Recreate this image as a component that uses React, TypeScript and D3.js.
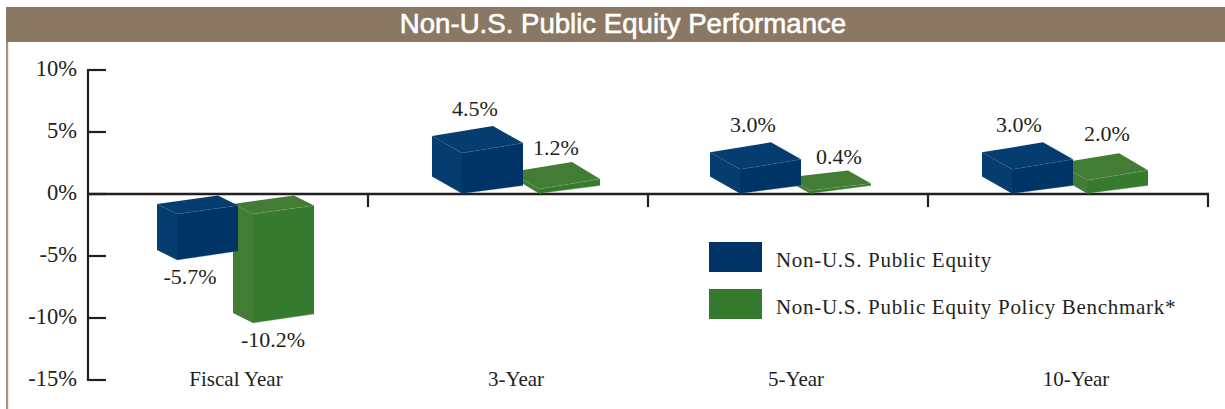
import React from "react";
import * as d3 from "d3";

const title = "Non-U.S. Public Equity Performance";
const categories = ["Fiscal Year", "3-Year", "5-Year", "10-Year"];
const equityValues = [-5.7, 4.5, 3.0, 3.0];
const benchmarkValues = [-10.2, 1.2, 0.4, 2.0];
const yTicks = [10, 5, 0, -5, -10, -15];
const seriesNames = ["Non-U.S. Public Equity", "Non-U.S. Public Equity Policy Benchmark*"];

const serif = "'Liberation Serif', serif";
const ink = "#231f20";
const palette = [
  { front: "#003366", side: "#053d70", edge: "#2f6190" },
  { front: "#367a2d", side: "#437c34", edge: "#76a868" },
];

const y = d3.scaleLinear().domain([10, -15]).range([70, 380]);
const x = d3.scaleBand<string>().domain(categories).range([88, 1208]);
const zero = y(0);

// the source's 3-D projection: how drawn bar ends relate to the value
const risePos = d3.scaleLinear().domain([1.2, 4.5]).range([zero - 5, zero - 41]);
const dropNeg = d3.scaleLinear().domain([-5.7, -10.2]).range([zero + 66, zero + 129]);
const parallax = [
  d3.scaleOrdinal<string, number>().domain(categories).range([-1, 4, 2, -6]),
  d3.scaleOrdinal<string, number>().domain(categories).range([0, 6, -3, -6]),
];
const labelNudgeX = [
  d3.scaleOrdinal<string, number>().domain(categories).range([0, 0, 0, -6]),
  d3.scaleOrdinal<string, number>().domain(categories).range([0, -3, 9, 0]),
];
const labelNudgeY = [
  d3.scaleOrdinal<string, number>().domain(categories).range([0, 0, 0, 0]),
  d3.scaleOrdinal<string, number>().domain(categories).range([0, 3, 3, -2]),
];
const depthX = d3.scaleLinear().domain([0.4, 1.2, 3]).range([23, 28, 30]).clamp(true);
const depthY = d3.scaleLinear().domain([0.4, 1.2]).range([13, 17]).clamp(true);
const riseTop = d3.scaleLinear().domain([0.4, 1.2]).range([7, 10]).clamp(true);
const seriesOffset = [-50, 25];
const labelOffset = [13, 20];
const barW = 61;

function pts(p: number[][]) {
  return p.map((d) => d.join(",")).join(" ");
}

function Bar({ cat, v, s }: { cat: string; v: number; s: number }) {
  const L = (x(cat) as number) + x.bandwidth() / 2 + seriesOffset[s] + parallax[s](cat);
  const neg = v < 0;
  const B = neg ? dropNeg(v) : zero - 0.5;
  const T = neg ? zero + 20 : Math.min(risePos(v), B - 3);
  const dx = neg ? -20 : -depthX(v);
  const dy = neg ? -10 : -depthY(v);
  const rt = neg ? 8.5 : riseTop(v);
  const rb = neg ? 9 : 8;
  const R = L + barW;
  const c = palette[s];
  const front = [[L, T], [R, T - rt], [R, B - rb], [L, B]];
  const side = [[L, T], [L + dx, T + dy], [L + dx, B + dy], [L, B]];
  const top = [[L, T], [R, T - rt], [R + dx, T - rt + dy], [L + dx, T + dy]];
  const labelY = (neg ? B + 24 : T - rt + dy - 10) + labelNudgeY[s](cat);
  return (
    <g>
      <polygon points={pts(side)} fill={c.side} />
      <polygon points={pts(top)} fill={c.side} />
      <polygon points={pts(front)} fill={c.front} />
      <line x1={L} y1={T} x2={R} y2={T - rt} stroke={c.edge} strokeWidth={0.6} strokeOpacity={0.55} />
      <line x1={L} y1={B} x2={R} y2={B - rb} stroke={c.edge} strokeWidth={0.6} strokeOpacity={0.55} />
      <text x={L + labelOffset[s] + labelNudgeX[s](cat)} y={labelY} textAnchor="middle" fontFamily={serif} fontSize={22} fill={ink}>
        {`${v.toFixed(1)}%`}
      </text>
    </g>
  );
}

export default function App() {
  return (
    <svg width={1225} height={409} style={{ position: "absolute", left: 0, top: 0, background: "#fff" }}>
      <rect x={6} y={7} width={2.2} height={402} fill="#a39383" />
      <rect x={6} y={7} width={1219} height={35} fill="#8a7864" />
      <text x={623} y={33} textAnchor="middle" fontFamily="'Liberation Sans', sans-serif" fontSize={27.6} fill="#fff" stroke="#fff" strokeWidth={0.6}>
        {title}
      </text>

      {yTicks.map((t) => (
        <g key={t}>
          <line x1={88} x2={106} y1={y(t)} y2={y(t)} stroke={ink} strokeWidth={2.2} />
          <text x={77} y={y(t) + 6} textAnchor="end" fontFamily={serif} fontSize={22.5} fill={ink}>
            {`${t}%`}
          </text>
        </g>
      ))}
      <line x1={88} x2={88} y1={y(10) - 1} y2={y(-15) + 1} stroke={ink} strokeWidth={2.2} />

      {categories.map((c) => (
        <line key={c} x1={(x(c) as number) + x.bandwidth()} x2={(x(c) as number) + x.bandwidth()} y1={zero} y2={zero + 13} stroke={ink} strokeWidth={2.2} />
      ))}
      <line x1={88} x2={1209} y1={zero} y2={zero} stroke={ink} strokeWidth={2.4} />

      {categories.map((c, i) => (
        <g key={c}>
          <Bar cat={c} v={benchmarkValues[i]} s={1} />
          <Bar cat={c} v={equityValues[i]} s={0} />
          <text x={(x(c) as number) + x.bandwidth() / 2 + 8} y={386} textAnchor="middle" fontFamily={serif} fontSize={21} fill={ink}>
            {c}
          </text>
        </g>
      ))}

      {seriesNames.map((n, i) => (
        <g key={n} transform={`translate(709,${242 + i * 47})`}>
          <rect width={53} height={30} fill={palette[i].front} />
          <text x={67} y={25} fontFamily={serif} fontSize={21} fill={ink} letterSpacing={0.7}>
            {n}
          </text>
        </g>
      ))}
    </svg>
  );
}
